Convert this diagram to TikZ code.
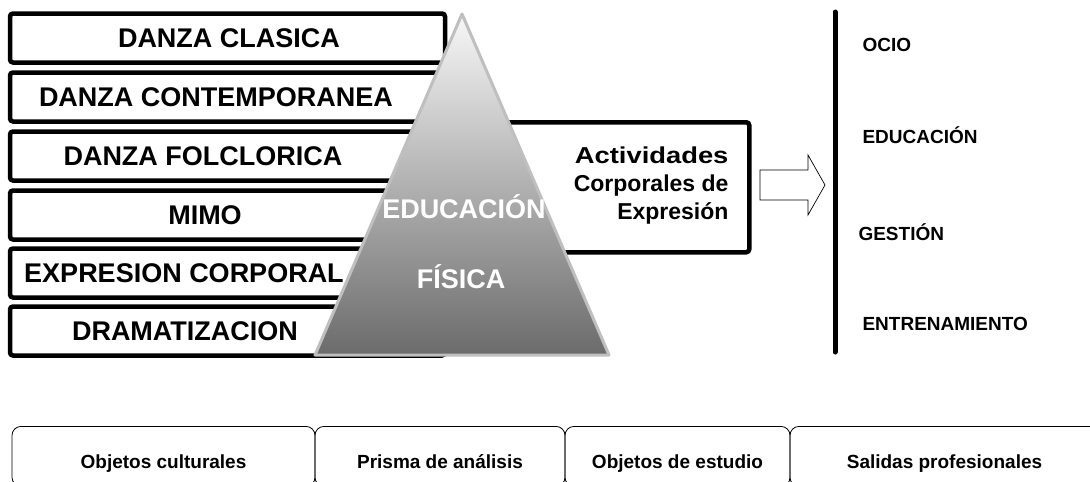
\documentclass[tikz,border=0pt]{standalone}
\usepackage{fontspec}
\setmainfont{Liberation Sans}
\usepackage{tikz}

\begin{document}
\begin{tikzpicture}[x=1pt,y=-1pt]
\tikzstyle{caja}=[draw,line width=4.5pt,rounded corners=3pt,fill=white,minimum width=435pt,minimum height=49pt,inner sep=0pt]
\tikzstyle{danza}=[font=\fontsize{27}{32}\selectfont\bfseries]
\tikzstyle{salida}=[anchor=west,font=\fontsize{19}{23}\selectfont\bfseries]
\tikzstyle{pestana}=[draw,line width=0.8pt,rounded corners=9pt,minimum height=60pt,inner sep=0pt,anchor=north,
  text height=25pt,text depth=1pt,font=\fontsize{19}{22}\selectfont\bfseries]

\useasboundingbox (0,0) rectangle (1090,482);
\clip (0,0) rectangle (1090,482);

% cajas de la izquierda
\node[caja] (clasica) at (227.5,38) {};
\node[caja] (contemp) at (227.5,97) {};
\node[caja] (folclor) at (227.5,156) {};
\node[caja] (mimo) at (227.5,215) {};
\node[caja] (expresion) at (227.5,273) {};
\node[caja] (drama) at (227.5,331) {};
\node[danza] (t-clasica) at (229,38) {DANZA CLASICA};
\node[danza] (t-contemp) at (216,97) {DANZA CONTEMPORANEA};
\node[danza] (t-folclor) at (203,156) {DANZA FOLCLORICA};
\node[danza] (t-mimo) at (205,215) {MIMO};
\node[danza] (t-expresion) at (184,273) {EXPRESION CORPORAL};
\node[danza] (t-drama) at (185,331) {DRAMATIZACION};

% caja central
\node[caja,minimum width=305pt,minimum height=130pt,anchor=north west] (actividades) at (442,120) {};
\node[anchor=east,align=right,font=\fontsize{23}{28}\selectfont\bfseries] (t-actividades) at (732,186)
  {\scalebox{1.19}[1]{Actividades}\\Corporales de\\Expresión};

% piramide
\coordinate (cima) at (462,14);
\coordinate (base-izq) at (315,355);
\coordinate (base-der) at (609,355);
\path[draw=black!25,line width=3pt,line join=round,top color=black!3,middle color=black!22,bottom color=black!58]
  (cima) -- (base-der) -- (base-izq) -- cycle;
\node[danza,text=white] (educacion) at (464,207) {EDUCACIÓN};
\node[danza,text=white] (fisica) at (461,277) {FÍSICA};

% flecha y eje
\draw[line width=0.7pt,fill=white] (760,170) -- (808,170) -- (808,155) -- (825,185)
  -- (808,215) -- (808,200) -- (760,200) -- cycle;
\coordinate (eje-sup) at (835,12);
\coordinate (eje-inf) at (835,352);
\draw[line width=5pt,line cap=round] (eje-sup) -- (eje-inf);

\node[salida] (ocio) at (859,45) {OCIO};
\node[salida] (educ) at (859,135) {EDUCACIÓN};
\node[salida] (gestion) at (855,232) {GESTIÓN};
\node[salida] (entrena) at (859,324) {ENTRENAMIENTO};

% pestanas de abajo
\node[pestana,minimum width=303pt] (objetos) at (163.5,426) {Objetos culturales};
\node[pestana,minimum width=250pt] (prisma) at (440,426) {Prisma de análisis};
\node[pestana,minimum width=225pt] (estudio) at (677.5,426) {Objetos de estudio};
\node[pestana,minimum width=309pt] (salidas) at (944.5,426) {Salidas profesionales};
\end{tikzpicture}
\end{document}
